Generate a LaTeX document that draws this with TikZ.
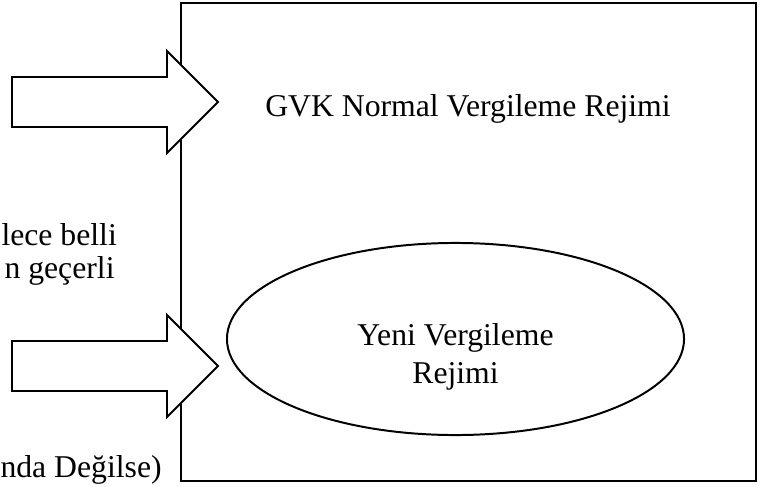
\documentclass[tikz,border=0pt]{standalone}
\usepackage{fontspec}
\setmainfont{Liberation Serif}
\usetikzlibrary{shapes.geometric}
\tikzstyle{regimebox} = [rectangle, minimum width=217.8pt, minimum height=180.9pt, draw=black, line width=0.75pt, inner sep=0pt]
\tikzstyle{regimeoval} = [ellipse, minimum width=173pt, minimum height=72.7pt, draw=black, line width=0.75pt, fill=white, inner sep=0pt]
\tikzstyle{inarrow} = [draw=black, line width=0.75pt, fill=white, line join=miter]
\tikzstyle{sidetext} = [anchor=base west, inner sep=0pt]

\begin{document}
\begin{tikzpicture}[x=0.3785pt, y=-0.3785pt, font=\fontsize{12}{14.3}\selectfont]
	\clip (0,0) rectangle (763,486);
	\node (vgk) [regimebox] at (468.75,242) {};
	\node (vgktxt) [anchor=base, inner sep=0pt] at (468,117) {GVK Normal Vergileme Rejimi};
	\node (yeni) [regimeoval] at (455.5,339) {};
	\node (yenitxt) [align=center, inner sep=0pt] at (455.5,357) {Yeni Vergileme\\Rejimi};
	% block arrows into the box
	\coordinate (arrowa) at (12,102);
	\coordinate (arrowb) at (12,366);
	\draw[inarrow] (arrowa) ++(0,-25) -- ++(155,0) -- ++(0,-26) -- ++(51,51) -- ++(-51,51) -- ++(0,-26) -- ++(-155,0) -- cycle;
	\draw[inarrow] (arrowb) ++(0,-25) -- ++(155,0) -- ++(0,-26) -- ++(51,51) -- ++(-51,51) -- ++(0,-26) -- ++(-155,0) -- cycle;
	\node (notea) [sidetext] at (1,245) {lece belli};
	\node (noteb) [sidetext] at (4,278) {n geçerli};
	\node (notec) [sidetext] at (0,477) {nda Değilse)};
\end{tikzpicture}
\end{document}
